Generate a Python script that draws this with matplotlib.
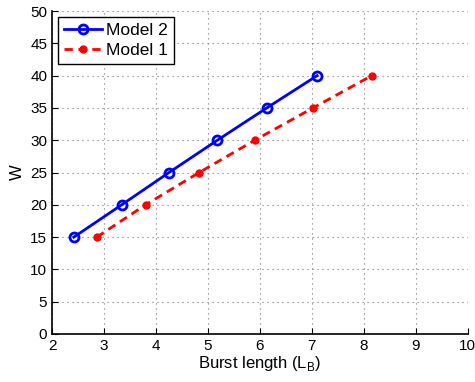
import matplotlib
matplotlib.use('Agg')
import matplotlib.pyplot as plt
import numpy as np

plt.rcParams['font.family'] = ['Liberation Sans', 'DejaVu Sans']

# data
w = [15, 20, 25, 30, 35, 40]
lb_model2 = [2.42, 3.34, 4.25, 5.18, 6.13, 7.10]
lb_model1 = [2.86, 3.80, 4.83, 5.90, 7.02, 8.15]

fig = plt.figure(figsize=(4.75, 3.82), dpi=100)
ax = fig.add_axes([0.1095, 0.1257, 0.8755, 0.8453])

ax.plot(lb_model2, w, '-o', color='#0000ff', lw=2, markersize=6.5,
        markerfacecolor='none', markeredgewidth=2, label='Model 2')
ax.plot(lb_model1, w, '--o', color='#ff0000', lw=2, markersize=5,
        markerfacecolor='#ff0000', markeredgewidth=1, dashes=(3, 2), label='Model 1')

ax.set_xlim(2, 10)
ax.set_ylim(0, 50)
ax.set_xticks(np.arange(2, 11, 1))
ax.set_yticks(np.arange(0, 51, 5))
ax.tick_params(direction='in', labelsize=11, length=4, width=0.8)
ax.grid(True, linestyle=(0, (1, 3.5)), color='#777777', linewidth=0.8)
ax.spines['top'].set_visible(False)
ax.spines['right'].set_visible(False)
ax.spines['left'].set_linewidth(1.2)
ax.spines['bottom'].set_linewidth(1.2)

ax.set_xlabel('Burst length (L$_\\mathregular{B}$)', fontsize=12, labelpad=1)
ax.set_ylabel('W', fontsize=12, labelpad=4)

leg = ax.legend(loc='upper left', fontsize=12.5, fancybox=False, framealpha=1,
                edgecolor='black', handlelength=2.2, borderpad=0.35,
                labelspacing=0.25, handletextpad=0.2, borderaxespad=0.35)
leg.get_frame().set_linewidth(1.0)

fig.savefig('out.png', dpi=100)
